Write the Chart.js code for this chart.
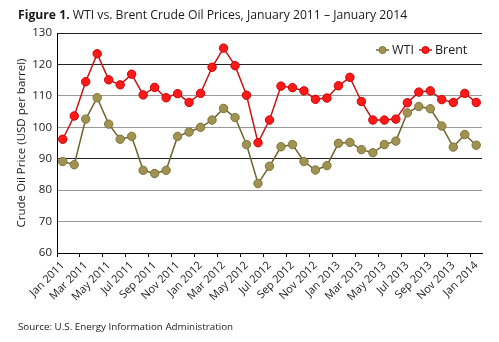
<!DOCTYPE html>
<html>
<head>
<meta charset="utf-8">
<script src="https://cdn.jsdelivr.net/npm/chart.js@4"></script>
<style>
  html, body { margin: 0; padding: 0; background: #fff; }
  #wrap { position: relative; width: 499px; height: 342px; overflow: hidden; }
  #c { position: absolute; left: 0; top: 0; }
  .t { position: absolute; font-family: "Open Sans", sans-serif; color: #1a1a1a; white-space: nowrap; }
  #title { left: 18px; top: 6px; font-size: 12.2px; line-height: 18px; }
  #src { left: 18px; top: 319px; font-size: 9.8px; line-height: 16px; }
</style>
</head>
<body>
<div id="wrap">
  <canvas id="c" width="499" height="342"></canvas>
  <div id="title" class="t"><b>Figure 1.</b> WTI vs. Brent Crude Oil Prices, January 2011 – January 2014</div>
  <div id="src" class="t">Source: U.S. Energy Information Administration</div>
</div>
<script>
const months = ['Jan','Feb','Mar','Apr','May','Jun','Jul','Aug','Sep','Oct','Nov','Dec'];
const categories = [];
for (let y = 2011; y <= 2014; y++) {
  for (let m = 0; m < 12; m++) {
    if (y === 2014 && m > 0) break;
    categories.push(months[m] + ' ' + y);
  }
}
const wti = [89.1, 88.1, 102.6, 109.4, 101.0, 96.2, 97.1, 86.3, 85.3, 86.3, 97.1, 98.5,
             100.0, 102.3, 106.0, 103.1, 94.5, 82.1, 87.6, 93.8, 94.5, 89.1, 86.4, 87.8,
             94.9, 95.2, 92.9, 91.9, 94.5, 95.6, 104.6, 106.6, 105.9, 100.4, 93.7, 97.7, 94.3];
const brent = [96.2, 103.6, 114.5, 123.4, 115.1, 113.5, 116.9, 110.3, 112.7, 109.4, 110.7, 107.9,
               110.8, 119.1, 125.2, 119.6, 110.2, 95.1, 102.3, 113.1, 112.6, 111.6, 108.9, 109.3,
               113.2, 115.9, 108.2, 102.3, 102.3, 102.6, 107.8, 111.2, 111.6, 108.8, 107.9, 110.8, 107.9];
const yTicks = [60, 70, 80, 90, 100, 110, 120, 130];

const FONT = '"Open Sans", sans-serif';

const insideLegend = {
  id: 'insideLegend',
  afterDraw(chart) {
    const ctx = chart.ctx;
    const y = chart.chartArea.top + 17;
    const items = [
      { ds: chart.data.datasets[0], x: 376 },
      { ds: chart.data.datasets[1], x: 419 }
    ];
    ctx.save();
    ctx.font = '12.5px ' + FONT;
    ctx.textBaseline = 'middle';
    items.forEach(it => {
      const ds = it.ds;
      ctx.strokeStyle = ds.borderColor;
      ctx.lineWidth = 1.5;
      ctx.beginPath();
      ctx.moveTo(it.x, y);
      ctx.lineTo(it.x + 13, y);
      ctx.stroke();
      ctx.beginPath();
      ctx.arc(it.x + 6.5, y, 3.5, 0, Math.PI * 2);
      ctx.fillStyle = ds.pointBackgroundColor;
      ctx.fill();
      ctx.lineWidth = 1;
      ctx.strokeStyle = ds.pointBorderColor;
      ctx.stroke();
      ctx.fillStyle = '#1a1a1a';
      ctx.fillText(ds.label, it.x + 16, y + 0.5);
    });
    ctx.restore();
  }
};

new Chart(document.getElementById('c'), {
  type: 'line',
  data: {
    labels: categories,
    datasets: [
      {
        label: 'WTI',
        data: wti,
        borderColor: '#6e6430',
        borderWidth: 1.5,
        pointBackgroundColor: '#a09352',
        pointBorderColor: '#7d7238',
        pointBorderWidth: 1,
        pointRadius: 4.2,
        tension: 0
      },
      {
        label: 'Brent',
        data: brent,
        borderColor: '#c81414',
        borderWidth: 1.5,
        pointBackgroundColor: '#ff1a1a',
        pointBorderColor: '#cc0000',
        pointBorderWidth: 1,
        pointRadius: 4.2,
        tension: 0
      }
    ]
  },
  options: {
    responsive: false,
    animation: false,
    devicePixelRatio: 1,
    layout: { padding: { left: 0, right: 17, top: 33, bottom: 29 } },
    plugins: {
      legend: { display: false },
      tooltip: { enabled: false },
      title: { display: false }
    },
    scales: {
      x: {
        type: 'category',
        offset: true,
        border: { display: true, color: '#000', width: 1 },
        grid: {
          offset: true,
          drawOnChartArea: false,
          drawTicks: true,
          tickLength: 4,
          color: ctx => (ctx.index % 2 === 0 ? '#000' : 'rgba(0,0,0,0)'),
          tickColor: ctx => (ctx.index % 2 === 0 ? '#000' : 'rgba(0,0,0,0)')
        },
        ticks: {
          autoSkip: false,
          minRotation: 45,
          maxRotation: 45,
          padding: 2,
          color: '#1a1a1a',
          font: { family: FONT, size: 11 },
          callback: function (v, i) { return i % 2 === 0 ? this.getLabelForValue(v) : ''; }
        },
        afterFit: s => { s.height = 60; }
      },
      y: {
        min: 60,
        max: 130,
        border: { display: true, color: '#000', width: 1 },
        grid: {
          drawTicks: false,
          color: ctx => {
            const v = ctx.tick && ctx.tick.value;
            return (v === 130 || v === 120 || v === 90 || v === 60) ? '#222' : '#999';
          },
          lineWidth: 1
        },
        afterBuildTicks: s => { s.ticks = yTicks.map(v => ({ value: v })); },
        ticks: {
          padding: 5,
          color: '#1a1a1a',
          font: { family: FONT, size: 11.5 }
        },
        title: {
          display: true,
          text: 'Crude Oil Price (USD per barrel)',
          color: '#1a1a1a',
          font: { family: FONT, size: 11.5 },
          padding: { top: 15, bottom: 0 }
        },
        afterFit: s => { s.width = 57; }
      }
    }
  },
  plugins: [insideLegend]
});
</script>
</body>
</html>
